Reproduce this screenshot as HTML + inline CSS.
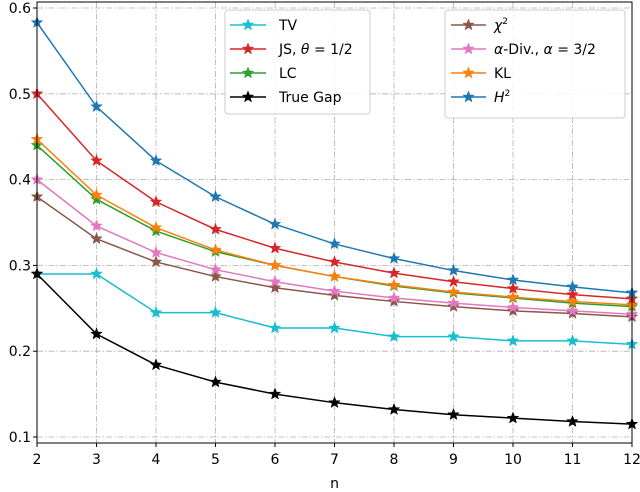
<!DOCTYPE html>
<html><head><meta charset="utf-8"><style>
body{margin:0;background:#fff;}
svg{display:block;font-family:"DejaVu Sans","Liberation Sans",sans-serif;}
</style></head><body>
<svg id="chart" width="640" height="492"></svg>
<script>
const nValues=[2,3,4,5,6,7,8,9,10,11,12];
const yTicks=[0.1,0.2,0.3,0.4,0.5,0.6];
const tvVals=[0.290,0.290,0.245,0.245,0.227,0.227,0.217,0.217,0.212,0.212,0.208];
const jsVals=[0.500,0.422,0.374,0.342,0.320,0.304,0.291,0.281,0.273,0.266,0.261];
const lcVals=[0.440,0.377,0.340,0.316,0.300,0.287,0.276,0.268,0.262,0.256,0.252];
const gapVals=[0.290,0.220,0.184,0.164,0.150,0.140,0.132,0.126,0.122,0.118,0.115];
const chiVals=[0.380,0.331,0.304,0.287,0.274,0.265,0.258,0.252,0.247,0.244,0.240];
const alphaVals=[0.400,0.346,0.315,0.295,0.281,0.270,0.262,0.256,0.251,0.247,0.243];
const klVals=[0.447,0.382,0.344,0.318,0.300,0.287,0.277,0.269,0.263,0.258,0.254];
const h2Vals=[0.583,0.485,0.422,0.380,0.348,0.325,0.308,0.294,0.283,0.275,0.268];

const NS="http://www.w3.org/2000/svg";
const svg=document.getElementById('chart');
const L=37,R=632,T=2,B=443;
const xS=n=>L+(n-2)*(R-L)/10;
const yS=v=>437-(v-0.1)*858;
function mk(tag,attrs,parent){const e=document.createElementNS(NS,tag);for(const k in attrs)e.setAttribute(k,attrs[k]);(parent||svg).appendChild(e);return e;}
function star(cx,cy,r,color,parent){
  let p=[];for(let i=0;i<10;i++){const a=-Math.PI/2+i*Math.PI/5;const rr=i%2?r*0.42:r;p.push((cx+rr*Math.cos(a)).toFixed(1)+','+(cy+rr*Math.sin(a)).toFixed(1));}
  return mk('polygon',{points:p.join(' '),fill:color,stroke:color,'stroke-width':0.5},parent);
}
const grid=mk('g',{});


nValues.forEach(n=>mk('line',{x1:xS(n),x2:xS(n),y1:T,y2:B,stroke:'#b0b0b0','stroke-width':0.8,'stroke-dasharray':'6,2,1.5,2'},grid));
yTicks.forEach(v=>mk('line',{x1:L,x2:R,y1:yS(v),y2:yS(v),stroke:'#b0b0b0','stroke-width':0.8,'stroke-dasharray':'6,2,1.5,2'},grid));
const xt=mk('g',{});


nValues.forEach(n=>{mk('line',{x1:xS(n),x2:xS(n),y1:B,y2:B+4,stroke:'#000'},xt);
 const t=mk('text',{x:xS(n),y:B+21,'text-anchor':'middle','font-size':14},xt);t.textContent=n;});
const xl=mk('text',{x:(L+R)/2,y:488,'text-anchor':'middle','font-size':14});xl.textContent='n';


const yt=mk('g',{});


yTicks.forEach(v=>{mk('line',{x1:L-4,x2:L,y1:yS(v),y2:yS(v),stroke:'#000'},yt);
 const t=mk('text',{x:L-6,y:yS(v)+5,'text-anchor':'end','font-size':14},yt);t.textContent=v.toFixed(1);});
const series=[
 ['tv',tvVals,'#17becf'],['chi2',chiVals,'#8c564b'],['alpha-div',alphaVals,'#e377c2'],
 ['lc',lcVals,'#2ca02c'],['kl',klVals,'#ff7f0e'],['js',jsVals,'#d62728'],['h2',h2Vals,'#1f77b4'],['true-gap',gapVals,'#000000']];
series.forEach(([nm,vals,c])=>{
 const g=mk('g',{});
 
 
 mk('polyline',{points:vals.map((v,i)=>xS(nValues[i])+','+yS(v)).join(' '),fill:'none',stroke:c,'stroke-width':1.5},g);
 vals.forEach((v,i)=>star(xS(nValues[i]),yS(v),6,c,g));
});
mk('rect',{x:L,y:T,width:R-L,height:B-T,fill:'none',stroke:'#000','stroke-width':1});
function legend(x,y,w,h,items,name,lx1,lx2,tx){
 const g=mk('g',{});
 
 
 mk('rect',{x:x,y:y,width:w,height:h,rx:3,fill:'#fff','fill-opacity':0.85,stroke:'#ccc'},g);
 items.forEach(([lab,c],i)=>{const yy=y+15+i*24;
  mk('line',{x1:lx1,x2:lx2,y1:yy,y2:yy,stroke:c,'stroke-width':1.5},g);
  star((lx1+lx2)/2,yy,6,c,g);
  const t=mk('text',{x:tx,y:yy+5,'font-size':14},g);t.innerHTML=lab;});
}
legend(225,10,145,104,[['TV','#17becf'],['JS, <tspan font-style="italic">θ</tspan> = 1/2','#d62728'],['LC','#2ca02c'],['True Gap','#000']],'legend-left',230,266,279);
legend(445,10,180,108,[['<tspan font-style="italic">χ</tspan><tspan font-size="9" dy="-6">2</tspan>','#8c564b'],['<tspan font-style="italic">α</tspan>-Div., <tspan font-style="italic">α</tspan> = 3/2','#e377c2'],['KL','#ff7f0e'],['<tspan font-style="italic">H</tspan><tspan font-size="9" dy="-6">2</tspan>','#1f77b4']],'legend-right',451,486,494);
</script>
</body></html>
